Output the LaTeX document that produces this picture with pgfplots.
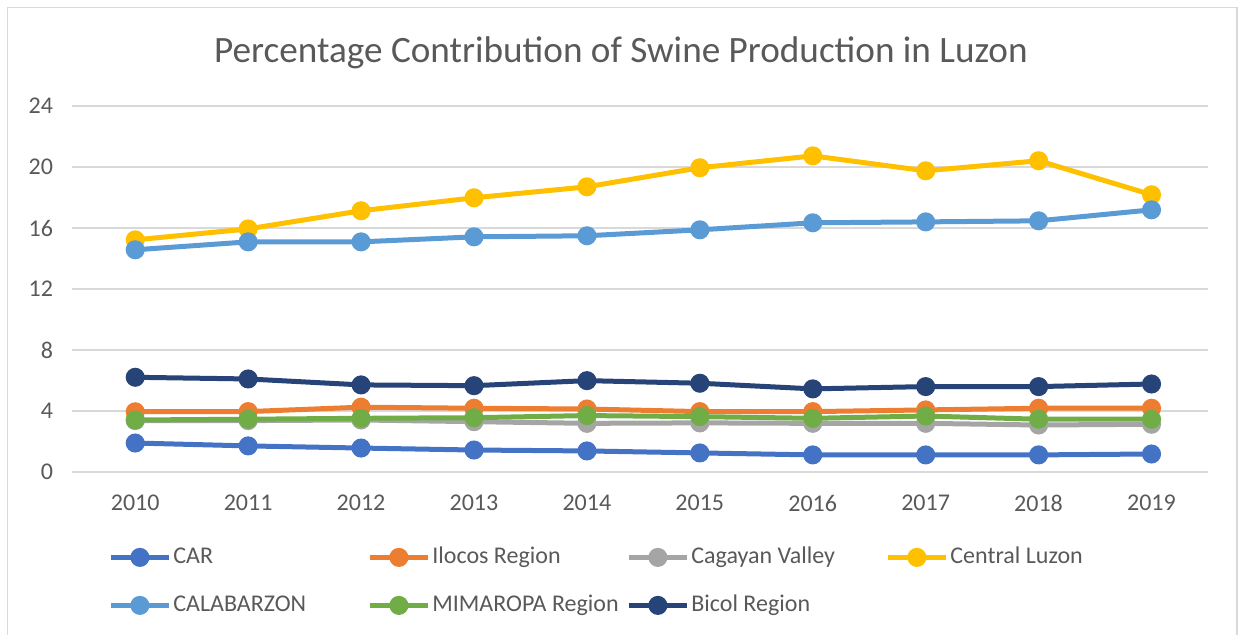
\documentclass[border=0pt]{standalone}
\usepackage{pgfplots}
\pgfplotsset{compat=1.18}
\usepackage{fontspec}
\setmainfont{Carlito}
\definecolor{cCAR}{HTML}{4472C4}
\definecolor{cIlo}{HTML}{ED7D31}
\definecolor{cCag}{HTML}{A5A5A5}
\definecolor{cCen}{HTML}{FFC000}
\definecolor{cCal}{HTML}{5B9BD5}
\definecolor{cMim}{HTML}{70AD47}
\definecolor{cBic}{HTML}{264478}
\definecolor{txt}{HTML}{595959}
\definecolor{grd}{HTML}{D9D9D9}
\newcommand{\lb}[1]{\makebox[96pt][l]{#1}}
\begin{document}
\begin{tikzpicture}[x=1pt,y=1pt]
\path[use as bounding box] (0,0) rectangle (621,317.5);
\draw[grd,line width=0.8pt] (3.75,0) -- (3.75,313.75) -- (618.5,313.75) -- (618.5,0);
\node[txt,font=\fontsize{18.6}{22}\selectfont] at (310.5,291) {Percentage Contribution of Swine Production in Luzon};
\begin{axis}[
  at={(36pt,81.5pt)}, anchor=south west,
  scale only axis, width=568pt, height=183pt,
  xmin=2009.44, xmax=2019.5, ymin=0, ymax=24,
  xtick={2010,...,2019}, ytick={0,4,...,24},
  xticklabel style={/pgf/number format/1000 sep={}},
  /pgf/number format/assume math mode=true,
  tick label style={font=\fontsize{12}{14}\selectfont, text=txt},
  xticklabel style={yshift=-8pt},
  yticklabel style={xshift=-6pt},
  major tick length=0pt,
  axis line style={draw=none},
  ymajorgrids, grid style={grd,line width=0.75pt},
  clip=false,
  every axis plot/.append style={line width=2.5pt, mark=*, mark size=3.5pt, mark options={solid}},
  legend columns=4,
  legend style={at={(0,0)}, anchor=north west, xshift=18pt, yshift=-36pt,
    draw=none, fill=none, inner sep=0pt, font=\fontsize{12}{14}\selectfont, text=txt,
    column sep=0pt, row sep=11pt,
    nodes={inner sep=1pt, text height=8.5pt, text depth=2.5pt}},
  legend cell align=left,
  legend image code/.code={\draw[#1,mark repeat=2,mark phase=2] plot coordinates {(0pt,0pt) (14.5pt,0pt) (29pt,0pt)};},
]
\addplot[color=cCAR] coordinates {(2010,1.90)(2011,1.71)(2012,1.57)(2013,1.44)(2014,1.38)(2015,1.25)(2016,1.12)(2017,1.12)(2018,1.12)(2019,1.18)};
\addlegendentry{\lb{CAR}}
\addplot[color=cIlo] coordinates {(2010,3.95)(2011,3.96)(2012,4.25)(2013,4.18)(2014,4.13)(2015,3.96)(2016,3.96)(2017,4.07)(2018,4.18)(2019,4.18)};
\addlegendentry{\lb{Ilocos Region}}
\addplot[color=cCag] coordinates {(2010,3.37)(2011,3.37)(2012,3.41)(2013,3.30)(2014,3.19)(2015,3.22)(2016,3.19)(2017,3.19)(2018,3.08)(2019,3.13)};
\addlegendentry{\lb{Cagayan Valley}}
\addplot[color=cCen] coordinates {(2010,15.22)(2011,15.94)(2012,17.13)(2013,17.98)(2014,18.70)(2015,19.95)(2016,20.73)(2017,19.75)(2018,20.41)(2019,18.18)};
\addlegendentry{Central Luzon}
\addplot[color=cCal] coordinates {(2010,14.57)(2011,15.09)(2012,15.09)(2013,15.42)(2014,15.49)(2015,15.88)(2016,16.34)(2017,16.40)(2018,16.47)(2019,17.19)};
\addlegendentry{\lb{CALABARZON}}
\addplot[color=cMim] coordinates {(2010,3.41)(2011,3.46)(2012,3.52)(2013,3.56)(2014,3.70)(2015,3.63)(2016,3.52)(2017,3.67)(2018,3.46)(2019,3.46)};
\addlegendentry{\lb{MIMAROPA Region}}
\addplot[color=cBic] coordinates {(2010,6.21)(2011,6.10)(2012,5.71)(2013,5.66)(2014,5.99)(2015,5.82)(2016,5.45)(2017,5.60)(2018,5.60)(2019,5.77)};
\addlegendentry{\lb{Bicol Region}}
\end{axis}
\end{tikzpicture}
\end{document}
